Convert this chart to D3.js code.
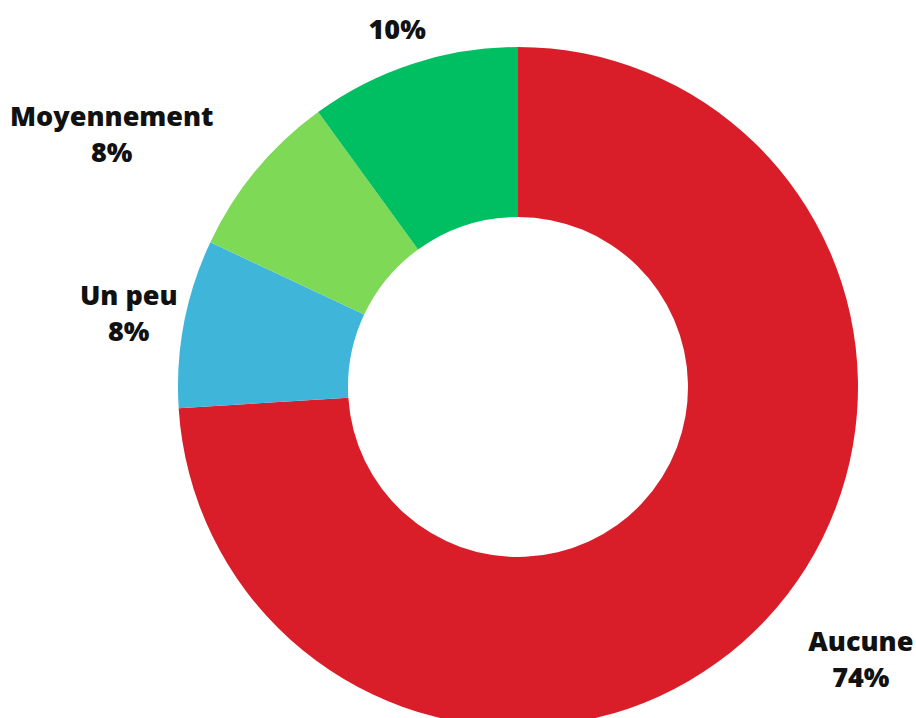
<!DOCTYPE html>
<html>
<head>
<meta charset="utf-8">
<script src="https://cdn.jsdelivr.net/npm/d3@7"></script>
<style>
  html, body { margin: 0; padding: 0; background: #ffffff; }
  svg { display: block; }
</style>
</head>
<body>
<svg id="chart" width="916" height="718"></svg>
<script>
// Data
const categories = ["Aucune", "Un peu", "Moyennement", "Beaucoup"];
const values = [74, 8, 8, 10];
const showName = [true, true, true, false];

// Styles / layout
const colors = ["#D91E2A", "#3FB5D9", "#7ED957", "#00BF63"];
const cx = 518, cy = 387, outerR = 340, innerR = 170;
// label placement: [angle offset (deg), radius]
const labelPlace = [[-4.7, 438], [-0.2, 396], [-7.8, 478], [-0.7, 377]];

const svg = d3.select("#chart");
const g = svg.append("g").attr("transform", `translate(${cx},${cy})`);

const pie = d3.pie().sort(null).value(d => d.value);
const arcs = pie(categories.map((c, i) => ({ name: c, value: values[i], i })));
const arc = d3.arc().innerRadius(innerR).outerRadius(outerR);

g.selectAll("path.slice")
  .data(arcs)
  .join("path")
  .attr("class", "slice")
  .attr("d", arc)
  .attr("fill", d => colors[d.data.i]);

const fontFamily = "'Open Sans', 'Noto Sans', sans-serif";
const lineH = 36;

arcs.forEach(a => {
  const i = a.data.i;
  const mid = (a.startAngle + a.endAngle) / 2 + labelPlace[i][0] * Math.PI / 180;
  const r = labelPlace[i][1];
  const x = Math.sin(mid) * r;
  const y = -Math.cos(mid) * r;
  const t = g.append("text")
    .attr("text-anchor", "middle")
    .attr("font-family", fontFamily)
    .attr("font-weight", 800)
    .attr("font-size", 27)
    .attr("fill", "#111111");
  const lines = showName[i] ? [a.data.name, a.data.value + "%"] : [a.data.value + "%"];
  const y0 = y - (lines.length - 1) * lineH / 2;
  lines.forEach((ln, k) => {
    t.append("tspan")
      .attr("x", x)
      .attr("y", y0 + k * lineH)
      .attr("dy", "0.33em")
      .text(ln);
  });
});
</script>
</body>
</html>
